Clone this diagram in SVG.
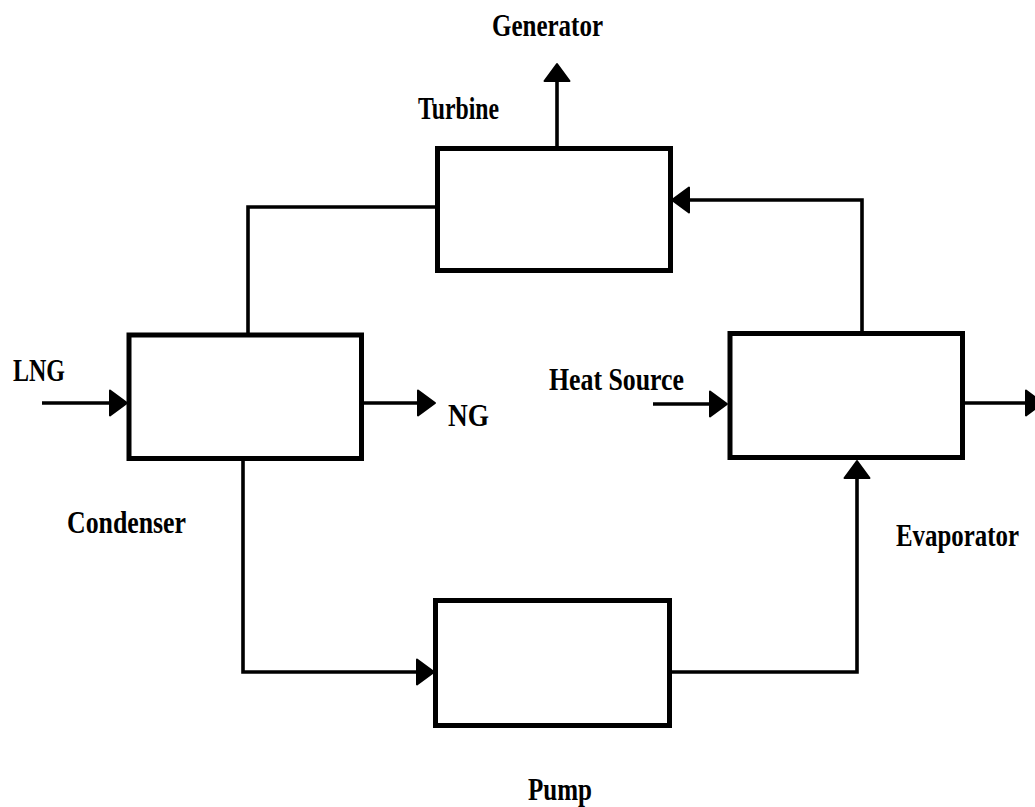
<svg xmlns="http://www.w3.org/2000/svg" width="1035" height="807" viewBox="0 0 1035 807">
<style>
.box{fill:#fff;stroke:#000;stroke-width:5}
.ln{fill:none;stroke:#000;stroke-width:3.6;stroke-linejoin:miter}
.lbl{font-family:"Liberation Serif","Times New Roman",serif;font-weight:bold;font-size:32px;fill:#000}
</style>
<defs>
<marker id="ah" markerUnits="userSpaceOnUse" viewBox="0 0 19 28" refX="0" refY="14" markerWidth="19" markerHeight="28" orient="auto" overflow="visible">
<path d="M1,1.5 L18,14 L1,26.5 Z" fill="#000" stroke="#000" stroke-width="2" stroke-linejoin="round"/>
</marker>
</defs>
<rect width="1035" height="807" fill="#fff"/>
<g id="connectors">
<path class="ln" d="M557,146 V82" marker-end="url(#ah)"/>
<path class="ln" d="M435,207 H248 V335"/>
<path class="ln" d="M243,458 V672 H416" marker-end="url(#ah)"/>
<path class="ln" d="M669,672 H857 V479" marker-end="url(#ah)"/>
<path class="ln" d="M862,333 V200 H690" marker-end="url(#ah)"/>
<path class="ln" d="M42,403 H109" marker-end="url(#ah)"/>
<path class="ln" d="M363,403 H417" marker-end="url(#ah)"/>
<path class="ln" d="M653,404 H709" marker-end="url(#ah)"/>
<path class="ln" d="M963,403 H1025" marker-end="url(#ah)"/>
</g>
<g id="turbine">
<rect class="box" x="437.5" y="148.5" width="233" height="122"/>
<text class="lbl" x="418" y="119" textLength="81" lengthAdjust="spacingAndGlyphs">Turbine</text>
</g>
<g id="generator">
<text class="lbl" x="492" y="36" textLength="111" lengthAdjust="spacingAndGlyphs">Generator</text>
</g>
<g id="condenser">
<rect class="box" x="129" y="335" width="232.5" height="123.5"/>
<text class="lbl" x="67" y="533" textLength="119" lengthAdjust="spacingAndGlyphs">Condenser</text>
</g>
<g id="lng">
<text class="lbl" x="13" y="381" textLength="52" lengthAdjust="spacingAndGlyphs">LNG</text>
</g>
<g id="ng">
<text class="lbl" x="448" y="426" textLength="41" lengthAdjust="spacingAndGlyphs">NG</text>
</g>
<g id="evaporator">
<rect class="box" x="730" y="333.5" width="232.5" height="124"/>
<text class="lbl" x="896" y="546" textLength="123" lengthAdjust="spacingAndGlyphs">Evaporator</text>
</g>
<g id="heat-source">
<text class="lbl" x="549" y="390" textLength="135" lengthAdjust="spacingAndGlyphs">Heat Source</text>
</g>
<g id="pump">
<rect class="box" x="435.5" y="600.5" width="234" height="125"/>
<text class="lbl" x="528" y="800" textLength="64" lengthAdjust="spacingAndGlyphs">Pump</text>
</g>
</svg>
